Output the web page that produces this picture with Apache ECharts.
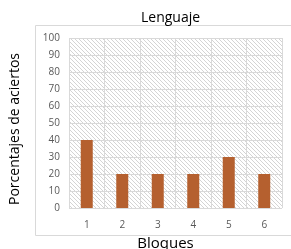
<!DOCTYPE html>
<html>
<head>
<meta charset="utf-8">
<script src="https://cdn.jsdelivr.net/npm/echarts@6/dist/echarts.min.js"></script>
<style>
  html, body { margin: 0; padding: 0; background: #fff; }
  #chart { width: 291px; height: 249px; }
</style>
</head>
<body>
<div id="chart"></div>
<script>
const bloques = ['1', '2', '3', '4', '5', '6']
const aciertos = [40, 20, 20, 20, 30, 20]

// hatch fill for the plot area
const hatch = document.createElement('canvas')
hatch.width = 4
hatch.height = 4
const ctx = hatch.getContext('2d')
ctx.fillStyle = '#ffffff'
ctx.fillRect(0, 0, 4, 4)
ctx.strokeStyle = '#d4d4d4'
ctx.lineWidth = 1
ctx.beginPath()
ctx.moveTo(-1, -1)
ctx.lineTo(5, 5)
ctx.moveTo(-1, 3)
ctx.lineTo(1, 5)
ctx.moveTo(3, -1)
ctx.lineTo(5, 1)
ctx.stroke()

const chart = echarts.init(document.getElementById('chart'))

const labelFont = {
  fontFamily: 'Open Sans',
  fontSize: 10,
  color: '#595959'
}

chart.setOption({
  animation: false,
  title: {
    text: 'Lenguaje',
    left: 136,
    top: 6,
    textStyle: {
      fontFamily: 'Open Sans',
      fontSize: 14,
      fontWeight: 'normal',
      color: '#000'
    }
  },
  graphic: [
    {
      type: 'rect',
      shape: { x: 35.5, y: 25.5, width: 280, height: 210 },
      style: { fill: null, stroke: '#d9d9d9', lineWidth: 1 },
      silent: true
    }
  ],
  grid: {
    left: 69,
    right: 9,
    top: 38,
    bottom: 41,
    outerBoundsMode: 'none',
    show: true,
    backgroundColor: { image: hatch, repeat: 'repeat' },
    borderWidth: 0
  },
  xAxis: {
    type: 'category',
    data: bloques,
    name: 'Bloques',
    nameLocation: 'middle',
    nameGap: 28,
    nameTextStyle: {
      fontFamily: 'Open Sans',
      fontSize: 15,
      color: '#000',
      padding: [0, 20, 0, 0]
    },
    axisLine: { show: false },
    axisTick: { show: false },
    axisLabel: { ...labelFont, margin: 12 },
    splitLine: {
      show: true,
      lineStyle: { color: '#d9d9d9', width: 1 }
    }
  },
  yAxis: {
    type: 'value',
    min: 0,
    max: 100,
    interval: 10,
    name: 'Porcentajes de aciertos',
    nameLocation: 'middle',
    nameGap: 47,
    nameTextStyle: {
      fontFamily: 'Open Sans',
      fontSize: 14,
      color: '#000',
      padding: [0, 12, 0, 0]
    },
    axisLine: { show: false },
    axisTick: { show: false },
    axisLabel: { ...labelFont, margin: 9 },
    splitLine: {
      lineStyle: { color: '#d9d9d9', width: 1 }
    }
  },
  series: [
    {
      type: 'bar',
      data: aciertos,
      barWidth: 12,
      itemStyle: {
        color: '#b5602f'
      }
    }
  ]
})
</script>
</body>
</html>
